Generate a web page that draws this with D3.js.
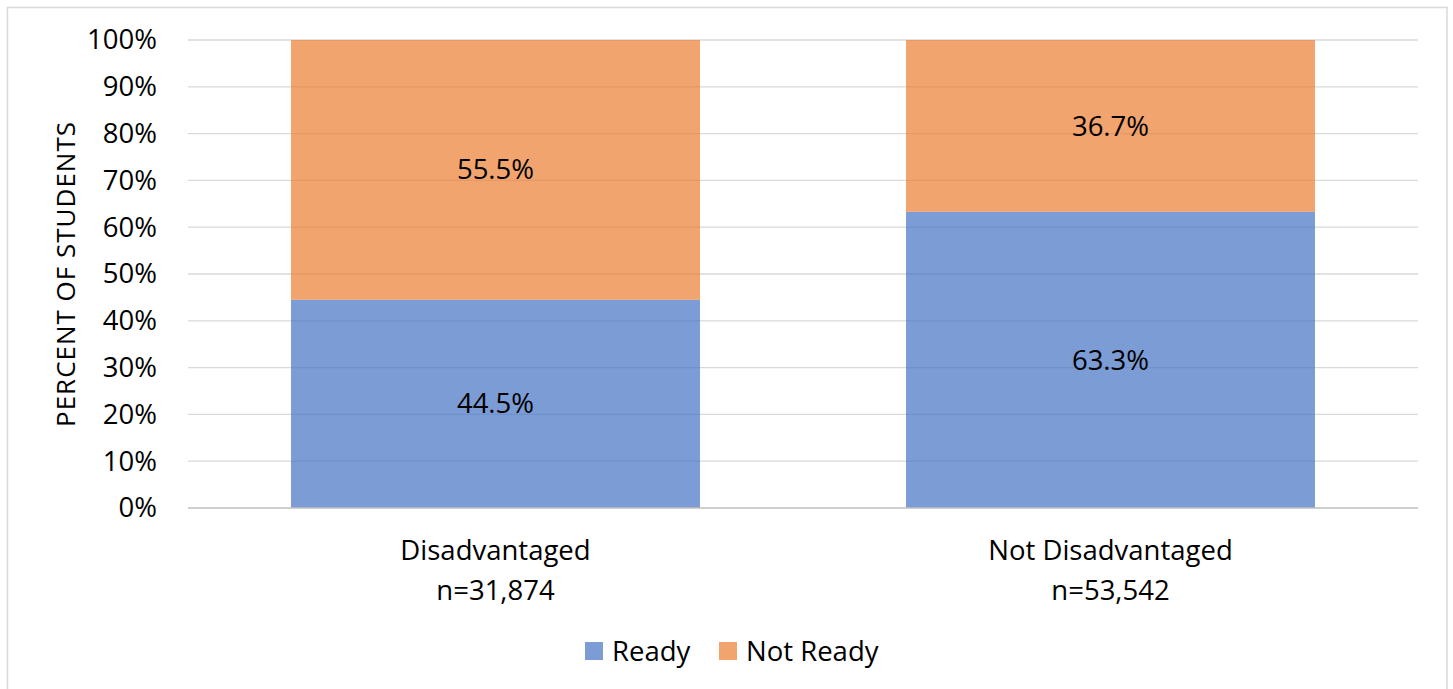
<!DOCTYPE html>
<html>
<head>
<meta charset="utf-8">
<script src="https://cdn.jsdelivr.net/npm/d3@7"></script>
<style>
  html, body { margin: 0; padding: 0; background: #fff; }
  svg { display: block; }
  text { font-family: "Open Sans", "Liberation Sans", sans-serif; fill: #000; }
</style>
</head>
<body>
<svg id="chart" width="1453" height="689"></svg>
<script>
// Readiness by disadvantaged status (percent of students)
const categories = ["Disadvantaged", "Not Disadvantaged"];
const sampleSizes = ["n=31,874", "n=53,542"];
const seriesNames = ["Ready", "Not Ready"];
const readyValues = [44.5, 63.3];
const notReadyValues = [55.5, 36.7];
const yTicks = [0, 10, 20, 30, 40, 50, 60, 70, 80, 90, 100];
const seriesColors = ["#4472C4", "#ED7D31"];

const svg = d3.select("#chart");
const W = 1453, H = 689;
const FS = 27.5;

// outer chart border (bottom runs off the canvas)
svg.append("rect")
  .attr("x", 7.5).attr("y", 7.5)
  .attr("width", 1439.5).attr("height", H + 10)
  .attr("fill", "#fff").attr("stroke", "#d9d9d9").attr("stroke-width", 1.5);

const plot = { left: 188, right: 1418, top: 40, bottom: 508 };

const x = d3.scaleBand()
  .domain(categories)
  .range([plot.left, plot.right])
  .paddingInner(0.335)
  .paddingOuter(0.1675);

const y = d3.scaleLinear().domain([0, 100]).range([plot.bottom, plot.top]);

// gridlines
svg.append("g")
  .selectAll("line")
  .data(yTicks.filter(t => t > 0))
  .join("line")
  .attr("x1", plot.left).attr("x2", plot.right)
  .attr("y1", d => y(d)).attr("y2", d => y(d))
  .attr("stroke", "#d9d9d9").attr("stroke-width", 1.3);

// y tick labels
const yAxis = d3.axisLeft(y).tickValues(yTicks).tickFormat(d => d + "%").tickSize(0).tickPadding(31);
const yg = svg.append("g").attr("transform", `translate(${plot.left},0)`).call(yAxis);
yg.select(".domain").remove();
yg.selectAll("text")
  .attr("font-size", FS)
  .attr("font-family", "'Open Sans', 'Liberation Sans', sans-serif")
  .attr("fill", "#000");

// stacked data
const rows = categories.map((c, i) => ({ cat: c, Ready: readyValues[i], "Not Ready": notReadyValues[i] }));
const stack = d3.stack().keys(seriesNames)(rows);

const layers = svg.append("g")
  .selectAll("g")
  .data(stack)
  .join("g")
  .attr("fill", (d, i) => seriesColors[i])
  .attr("fill-opacity", 0.7);

layers.selectAll("rect")
  .data(d => d)
  .join("rect")
  .attr("x", d => x(d.data.cat))
  .attr("width", x.bandwidth())
  .attr("y", d => y(d[1]))
  .attr("height", d => y(d[0]) - y(d[1]));

// x axis baseline
svg.append("line")
  .attr("x1", plot.left).attr("x2", plot.right)
  .attr("y1", y(0)).attr("y2", y(0))
  .attr("stroke", "#bfbfbf").attr("stroke-width", 1.5);

// segment value labels
stack.forEach(layer => {
  svg.append("g")
    .selectAll("text")
    .data(layer)
    .join("text")
    .attr("x", d => x(d.data.cat) + x.bandwidth() / 2)
    .attr("y", d => y((d[0] + d[1]) / 2))
    .attr("dy", "0.35em")
    .attr("text-anchor", "middle")
    .attr("font-size", FS)
    .text(d => (d[1] - d[0]).toFixed(1) + "%");
});

// category labels
const catG = svg.append("g");
categories.forEach((c, i) => {
  const cx = x(c) + x.bandwidth() / 2;
  catG.append("text").attr("x", cx).attr("y", 550).attr("dy", "0.35em")
    .attr("text-anchor", "middle").attr("font-size", FS).text(c);
  catG.append("text").attr("x", cx).attr("y", 590).attr("dy", "0.35em")
    .attr("text-anchor", "middle").attr("font-size", FS).text(sampleSizes[i]);
});

// y axis title
svg.append("text")
  .attr("transform", `translate(66,${(plot.top + plot.bottom) / 2}) rotate(-90)`)
  .attr("dy", "0.35em")
  .attr("text-anchor", "middle")
  .attr("font-size", 26)
  .attr("letter-spacing", 1)
  .text("PERCENT OF STUDENTS");

// legend
const legend = svg.append("g");
const legendItems = [{ name: seriesNames[0], x: 585 }, { name: seriesNames[1], x: 719 }];
legendItems.forEach((d, i) => {
  legend.append("rect")
    .attr("x", d.x).attr("y", 642).attr("width", 18).attr("height", 18)
    .attr("fill", seriesColors[i]).attr("fill-opacity", 0.7);
  legend.append("text")
    .attr("x", d.x + 27).attr("y", 651).attr("dy", "0.35em")
    .attr("font-size", FS).text(d.name);
});
</script>
</body>
</html>
